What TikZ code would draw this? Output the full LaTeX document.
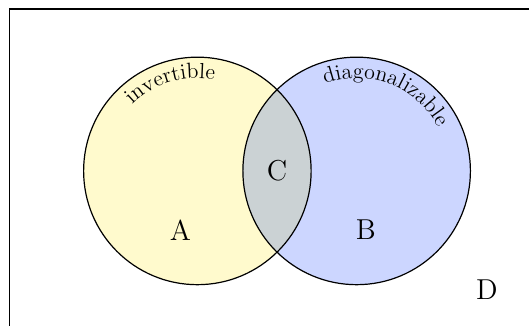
\documentclass[tikz,border=0pt]{standalone}
\usepackage{tikz}
\usetikzlibrary{positioning}
\usetikzlibrary{decorations.text}

\definecolor{setyellow}{RGB}{255,250,205}
\definecolor{setblue}{RGB}{204,214,255}
\definecolor{setboth}{RGB}{203,210,212}

\begin{document}
\begin{tikzpicture}[
    setline/.style={draw=black, semithick},
    setlabel/.style={font=\Large},
    arctext/.style={decorate, decoration={text along path, text align=center,
      text format delimiters={|}{|}, text={|\fontsize{11}{13}\selectfont|#1}}}
  ]
    \path[use as bounding box, clip] (-3.47,-2.72) rectangle (5.83,3.005);

    \coordinate (ca) at (0,0);
    \coordinate (cb) at (2.8,0);

    % universe
    \draw[thick] (-3.3,-2.95) rectangle (5.98,2.85);

    % the two sets
    \fill[setyellow] (ca) circle[radius=2cm];
    \fill[setblue] (cb) circle[radius=2cm];
    \begin{scope}
      \clip (ca) circle[radius=2cm];
      \fill[setboth] (cb) circle[radius=2cm];
    \end{scope}
    \draw[setline] (ca) circle[radius=2cm];
    \draw[setline] (cb) circle[radius=2cm];

    % names along the rims
    \path[arctext={invertible}] (ca) ++(149:1.63) arc[start angle=149, end angle=65, radius=1.63];
    \path[arctext={diagonalizable}] (cb) ++(115:1.63) arc[start angle=115, end angle=23, radius=1.63];

    \node[setlabel] (a) at (-0.3,-1.04) {A};
    \node[setlabel] (b) at (2.96,-1.04) {B};
    \node[setlabel] (c) at (1.4,0) {C};
    \node[setlabel] (d) at (5.09,-2.09) {D};
\end{tikzpicture}
\end{document}
